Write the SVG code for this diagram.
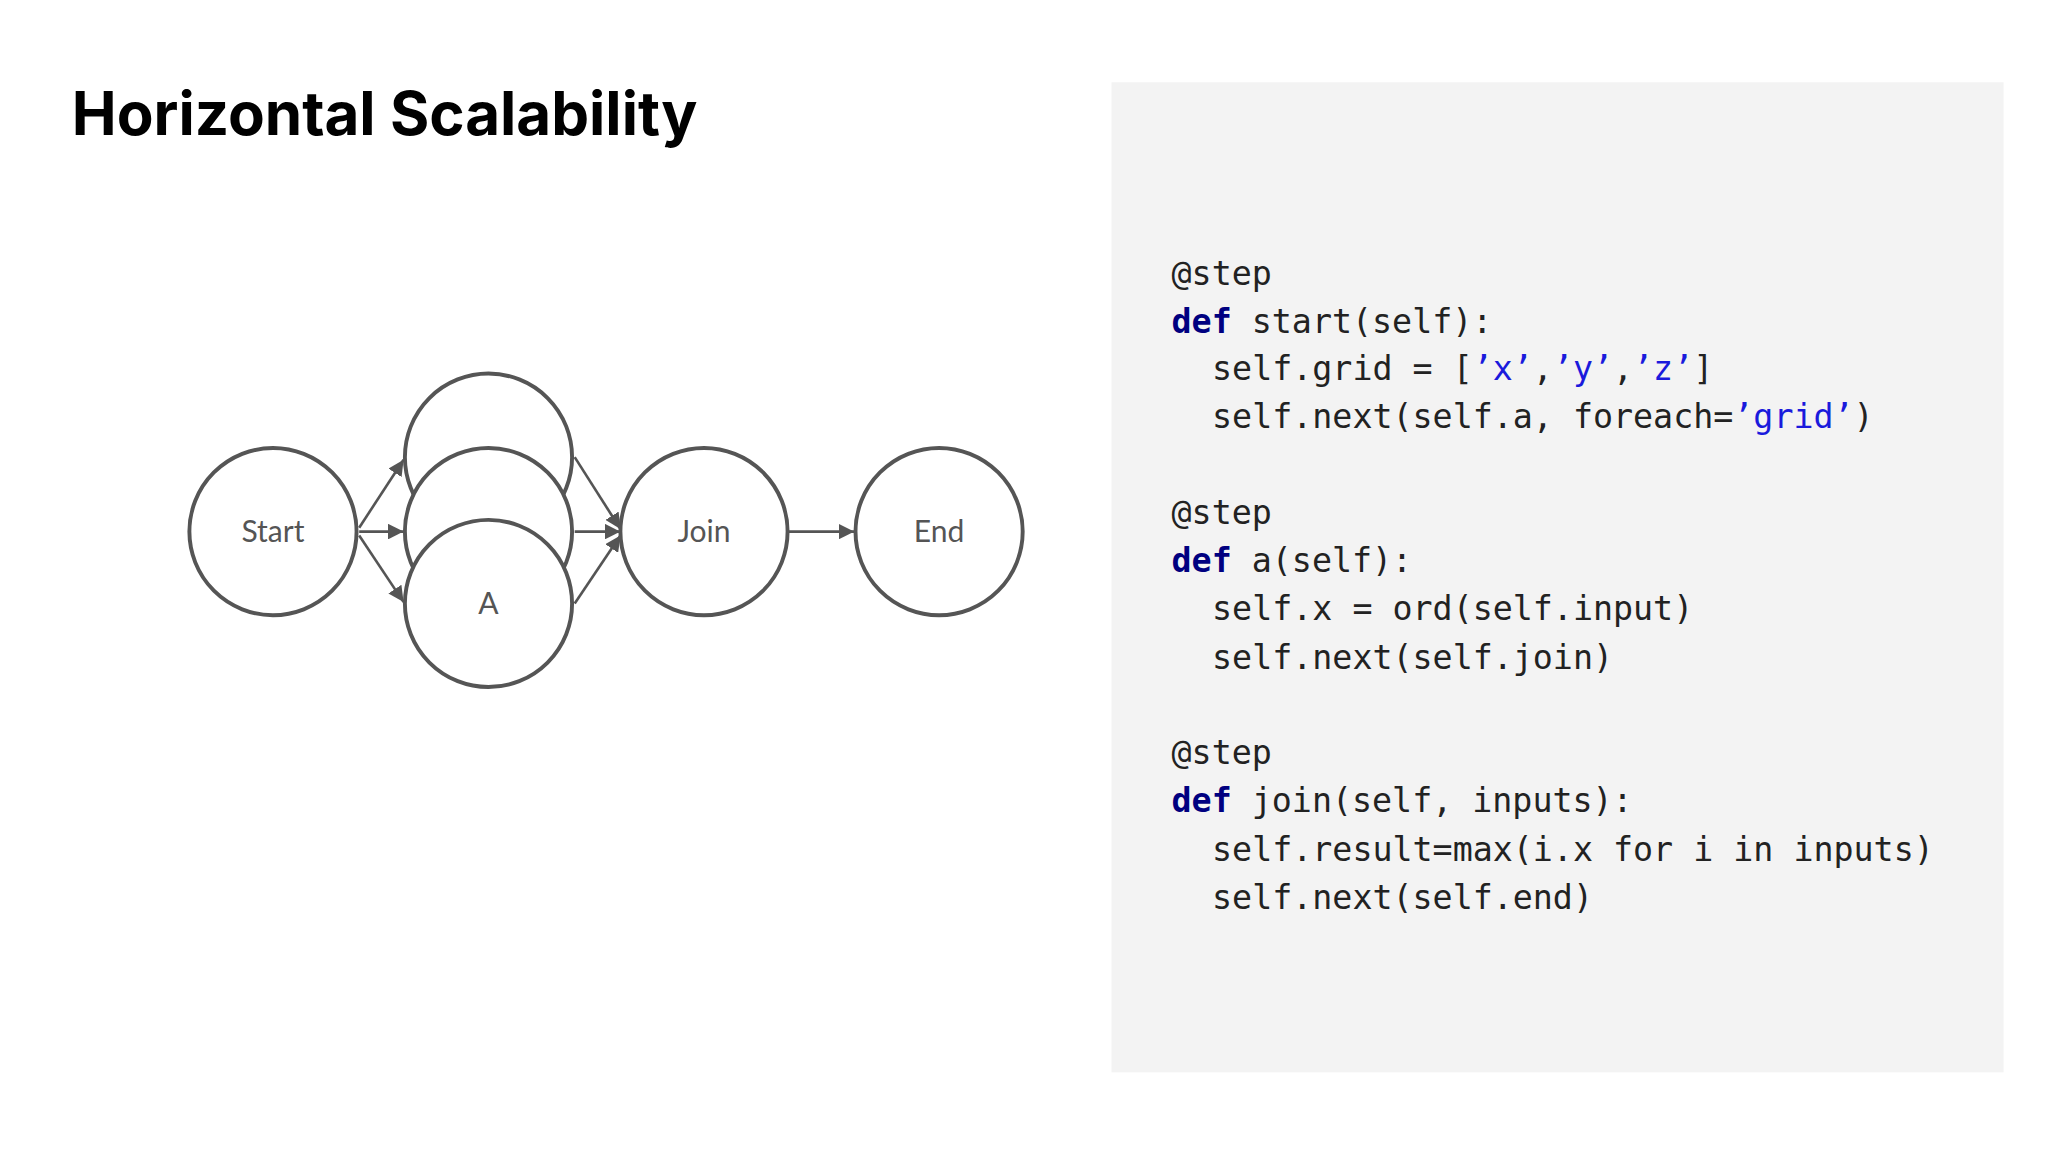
<svg xmlns="http://www.w3.org/2000/svg" width="2048" height="1152" viewBox="0 0 2048 1152">
<style>
.n{fill:#fff;stroke:#555;stroke-width:3}
.l{font-family:Lato,"Liberation Sans",sans-serif;font-size:23px;fill:#555;text-anchor:middle}
.c{stroke:#555;stroke-width:2;fill:none;marker-end:url(#ah)}
.code{font-family:"DejaVu Sans Mono","Liberation Mono",monospace;font-size:25.5px;fill:#222}
.k{fill:#000080;font-weight:bold}
.s{fill:#1a1adc}
</style>
<defs><marker id="ah" viewBox="0 0 10 10" refX="10" refY="5" markerWidth="6" markerHeight="6" orient="auto" markerUnits="strokeWidth"><path d="M0,0L10,5L0,10z" fill="#555"/></marker></defs>
<rect width="2048" height="1152" fill="#fff"/>
<g transform="scale(1.30612)">
<text x="55" y="103" font-family="Inter,'Liberation Sans',sans-serif" font-weight="bold" font-size="46" fill="#000">Horizontal Scalability</text>
<rect x="851" y="63" width="683" height="758" fill="#f3f3f3"/>
<g class="code">
<text x="897" y="218">@step</text>
<text x="897" y="255"><tspan class="k">def</tspan> start(self):</text>
<text x="928" y="291" xml:space="preserve">self.grid = [<tspan class="s">’x’</tspan>,<tspan class="s">’y’</tspan>,<tspan class="s">’z’</tspan>]</text>
<text x="928" y="328" xml:space="preserve">self.next(self.a, foreach=<tspan class="s">’grid’</tspan>)</text>
<text x="897" y="401">@step</text>
<text x="897" y="438"><tspan class="k">def</tspan> a(self):</text>
<text x="928" y="475" xml:space="preserve">self.x = ord(self.input)</text>
<text x="928" y="512">self.next(self.join)</text>
<text x="897" y="585">@step</text>
<text x="897" y="622"><tspan class="k">def</tspan> join(self, inputs):</text>
<text x="928" y="659" xml:space="preserve">self.result=max(i.x for i in inputs)</text>
<text x="928" y="696">self.next(self.end)</text>
</g>
<g id="connectors">
<line class="c" x1="275" y1="404" x2="309" y2="352"/>
<line class="c" x1="275" y1="407" x2="309" y2="407"/>
<line class="c" x1="275" y1="410" x2="309" y2="461"/>
<line class="c" x1="440" y1="350" x2="475" y2="405"/>
<line class="c" x1="440" y1="407" x2="475" y2="407"/>
<line class="c" x1="440" y1="462" x2="475" y2="410"/>
<line class="c" x1="604" y1="407" x2="654" y2="407"/>
</g>
<g id="start"><circle class="n" cx="209" cy="407" r="64"/><text class="l" x="209" y="415">Start</text></g>
<g id="a3"><circle class="n" cx="374" cy="350" r="64"/></g>
<g id="a2"><circle class="n" cx="374" cy="407" r="64"/></g>
<g id="a1"><circle class="n" cx="374" cy="462" r="64"/><text class="l" x="374" y="470">A</text></g>
<g id="join"><circle class="n" cx="539" cy="407" r="64"/><text class="l" x="539" y="415">Join</text></g>
<g id="end"><circle class="n" cx="719" cy="407" r="64"/><text class="l" x="719" y="415">End</text></g>
</g>
</svg>
